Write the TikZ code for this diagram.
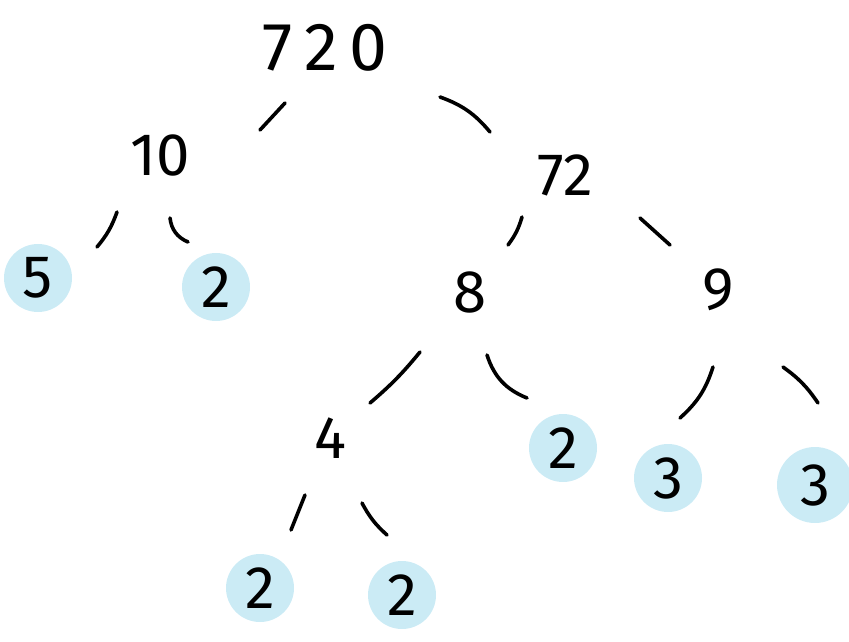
\documentclass[tikz,border=0pt]{standalone}
\usepackage{fontspec}
\setmainfont{Fira Sans}
\usepackage{tikz}
\usetikzlibrary{calc}
\definecolor{blobblue}{HTML}{CBEBF5}

\begin{document}
\begin{tikzpicture}[line cap=round,line join=round,x=0.5pt,y=-0.5pt,
	num/.style={font=\fontsize{30}{32}\selectfont},
	prime/.style={num,circle,fill=blobblue,minimum size=34pt,inner sep=0pt},
	twig/.style={line width=1.8pt,black}]
			\useasboundingbox (0,0) rectangle (849,641);
			\node[num,font=\fontsize{34}{36}\selectfont] (top) at (325,48) {7\,2\,0};
			\node[num] (ten) at (160,155) {10};
			\node[num] (sevtwo) at (565,175) {72};
			\node[prime] (five) at (38,278) {5};
			\node[prime] (twoa) at (216,287) {2};
			\node[num] (eight) at (470,292) {8};
			\node[num] (nine) at (718,290) {9};
			\node[num] (four) at (330,438) {4};
			\node[prime] (twob) at (563,448) {2};
			\node[prime] (threea) at (668,478) {3};
			\node[prime,minimum size=38pt] (threeb) at (815,485) {3};
			\node[prime] (twoc) at (260,588) {2};
			\node[prime] (twod) at (402,595) {2};
			\draw[twig] ($(top)+(-40,55)$) -- ($(ten)+(100,-25)$);
			\draw[twig] ($(top)+(115,49)$) to[bend left=15] ($(sevtwo)+(-75,-43)$);
			\draw[twig] ($(ten)+(-43,57)$) to[bend left=10] ($(five)+(59,-31)$);
			\draw[twig] ($(ten)+(10,63)$) to[bend right=30] ($(twoa)+(-28,-45)$);
			\draw[twig] ($(sevtwo)+(-43,42)$) to[bend left=10] ($(eight)+(38,-47)$);
			\draw[twig] ($(sevtwo)+(75,43)$) -- ($(nine)+(-48,-45)$);
			\draw[twig] ($(eight)+(-50,60)$) to[bend left=5] ($(four)+(40,-35)$);
			\draw[twig] ($(eight)+(17,63)$) to[bend right=25] ($(twob)+(-36,-50)$);
			\draw[twig] ($(nine)+(-5,77)$) to[bend left=15] ($(threea)+(12,-60)$);
			\draw[twig] ($(nine)+(65,77)$) to[bend left=10] ($(threeb)+(3,-82)$);
			\draw[twig] ($(four)+(-25,57)$) -- ($(twoc)+(31,-58)$);
			\draw[twig] ($(four)+(32,65)$) to[bend right=10] ($(twod)+(-15,-60)$);
		\end{tikzpicture}
\end{document}
